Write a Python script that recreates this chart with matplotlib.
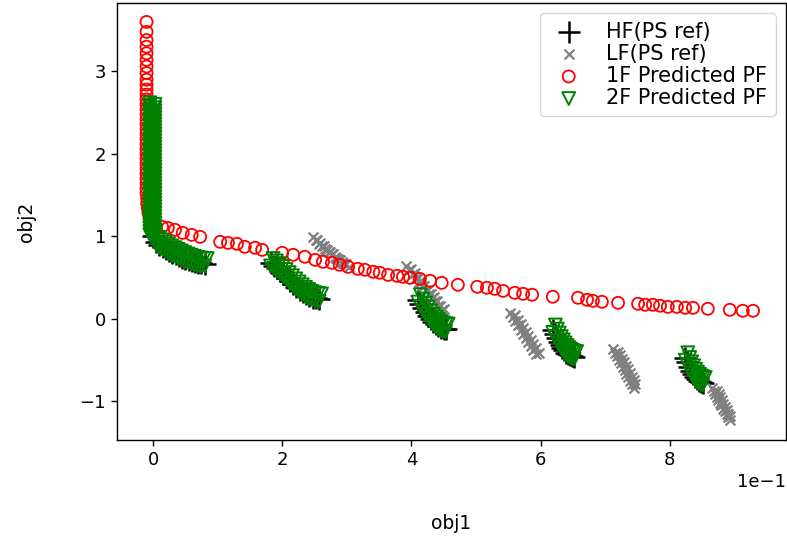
import matplotlib
matplotlib.use('Agg')
import matplotlib.pyplot as plt

# HF reference front (PS ref), five segments
hf_x = [0.000, 0.005, 0.010, 0.015, 0.020, 0.025, 0.030, 0.035, 0.040, 0.045, 0.050,
        0.055, 0.060, 0.065, 0.070, 0.075, 0.080,
        0.182, 0.187, 0.192, 0.197, 0.202, 0.207, 0.212, 0.217, 0.222, 0.227,
        0.232, 0.237, 0.242, 0.247, 0.252, 0.257,
        0.410, 0.414, 0.418, 0.422, 0.426, 0.430, 0.434, 0.438, 0.442, 0.446, 0.450, 0.453,
        0.619, 0.622, 0.625, 0.628, 0.631, 0.634, 0.637, 0.640, 0.643, 0.646, 0.649, 0.652,
        0.824, 0.827, 0.830, 0.833, 0.836, 0.839, 0.842, 0.845, 0.848, 0.851]
hf_y = [1.000, 0.928, 0.897, 0.871, 0.847, 0.824, 0.803, 0.782, 0.762, 0.743, 0.726,
        0.711, 0.698, 0.687, 0.679, 0.673, 0.670,
        0.671, 0.642, 0.610, 0.575, 0.538, 0.500, 0.462, 0.424, 0.387, 0.353,
        0.323, 0.296, 0.274, 0.257, 0.247, 0.242,
        0.233, 0.180, 0.130, 0.082, 0.037, -0.004, -0.039, -0.069, -0.093, -0.110, -0.121, -0.124,
        -0.135, -0.185, -0.233, -0.277, -0.316, -0.352, -0.383, -0.409, -0.430, -0.445, -0.454, -0.458,
        -0.472, -0.530, -0.583, -0.630, -0.671, -0.706, -0.733, -0.754, -0.767, -0.773]

# LF reference front (PS ref)
lf_x = [0.247, 0.252, 0.257, 0.262, 0.267, 0.272, 0.277, 0.282, 0.287, 0.292, 0.297,
        0.254, 0.259, 0.264, 0.269, 0.274, 0.279, 0.284, 0.289, 0.294, 0.299, 0.304,
        0.392, 0.397, 0.402, 0.407, 0.412, 0.417, 0.422, 0.427, 0.432, 0.437, 0.442, 0.447,
        0.400, 0.405, 0.410, 0.415, 0.420, 0.425, 0.430, 0.435, 0.440, 0.445, 0.450,
        0.553, 0.557, 0.561, 0.565, 0.569, 0.573, 0.577, 0.581, 0.585, 0.589, 0.593,
        0.561, 0.565, 0.569, 0.573, 0.577, 0.581, 0.585, 0.589, 0.593, 0.597,
        0.712, 0.715, 0.718, 0.721, 0.724, 0.727, 0.730, 0.733, 0.736, 0.739, 0.742, 0.745,
        0.720, 0.723, 0.726, 0.729, 0.732, 0.735, 0.738, 0.741, 0.744, 0.747,
        0.865, 0.868, 0.870, 0.873, 0.875, 0.878, 0.880, 0.883, 0.885, 0.888, 0.890, 0.893,
        0.873, 0.876, 0.878, 0.881, 0.883, 0.886, 0.888, 0.891, 0.893]
lf_y = [0.99, 0.95, 0.91, 0.88, 0.85, 0.81, 0.78, 0.75, 0.72, 0.69, 0.66,
        0.95, 0.92, 0.88, 0.84, 0.81, 0.78, 0.74, 0.71, 0.68, 0.66, 0.63,
        0.64, 0.59, 0.54, 0.50, 0.45, 0.40, 0.35, 0.30, 0.25, 0.21, 0.16, 0.11,
        0.60, 0.55, 0.50, 0.45, 0.40, 0.35, 0.30, 0.26, 0.21, 0.16, 0.12,
        0.07, 0.02, -0.03, -0.08, -0.13, -0.18, -0.23, -0.28, -0.33, -0.38, -0.43,
        0.04, -0.01, -0.06, -0.11, -0.16, -0.21, -0.26, -0.31, -0.36, -0.41,
        -0.37, -0.41, -0.45, -0.50, -0.54, -0.58, -0.62, -0.67, -0.71, -0.75, -0.79, -0.84,
        -0.40, -0.44, -0.49, -0.53, -0.57, -0.61, -0.66, -0.70, -0.74, -0.79,
        -0.84, -0.88, -0.91, -0.95, -0.98, -1.02, -1.05, -1.09, -1.12, -1.16, -1.19, -1.23,
        -0.87, -0.91, -0.95, -0.99, -1.03, -1.07, -1.11, -1.15, -1.18]

# 1F predicted front
pf1_x = [-0.010, -0.010, -0.010, -0.010, -0.010, -0.010, -0.010, -0.010, -0.010, -0.010,
         -0.010, -0.010, -0.010, -0.010, -0.010, -0.010, -0.010, -0.010, -0.010, -0.010,
         -0.010, -0.010, -0.010, -0.010, -0.010, -0.010, -0.010, -0.010, -0.010, -0.010,
         -0.010, -0.010, -0.009, -0.009, -0.008, -0.007, -0.005, 0.002,
         0.014, 0.023, 0.034, 0.046, 0.060, 0.073, 0.104, 0.116, 0.130, 0.142,
         0.158, 0.169, 0.200, 0.217, 0.235, 0.251, 0.263, 0.277, 0.289, 0.302,
         0.317, 0.328, 0.341, 0.351, 0.364, 0.378, 0.387, 0.398, 0.413, 0.429,
         0.447, 0.472, 0.502, 0.517, 0.529, 0.542, 0.560, 0.573, 0.587, 0.619,
         0.658, 0.672, 0.681, 0.695, 0.720, 0.751, 0.762, 0.774, 0.785, 0.797,
         0.811, 0.824, 0.836, 0.859, 0.893, 0.913, 0.929]
pf1_y = [3.60, 3.48, 3.38, 3.30, 3.22, 3.14, 3.06, 2.98, 2.90, 2.84,
         2.78, 2.72, 2.66, 2.60, 2.54, 2.48, 2.42, 2.36, 2.30, 2.24,
         2.18, 2.12, 2.06, 2.00, 1.94, 1.88, 1.82, 1.76, 1.70, 1.64,
         1.58, 1.52, 1.46, 1.40, 1.34, 1.28, 1.22, 1.16,
         1.115, 1.103, 1.079, 1.042, 1.018, 0.994, 0.933, 0.921, 0.909, 0.873,
         0.861, 0.836, 0.800, 0.776, 0.752, 0.715, 0.691, 0.679, 0.655, 0.630,
         0.606, 0.594, 0.570, 0.558, 0.533, 0.521, 0.509, 0.497, 0.485, 0.461,
         0.436, 0.412, 0.388, 0.376, 0.364, 0.339, 0.315, 0.303, 0.291, 0.267,
         0.255, 0.230, 0.218, 0.206, 0.194, 0.182, 0.170, 0.170, 0.158, 0.145,
         0.145, 0.133, 0.133, 0.121, 0.109, 0.097, 0.097]

# 2F predicted front: vertical branch (two columns) then the five segments (two rows each)
pf2_x = [-0.005, -0.005, -0.005, -0.005, -0.005, -0.005, -0.005, -0.005, -0.005, -0.005,
         -0.005, -0.005, -0.005, -0.005, -0.005, -0.005, -0.005, -0.005, -0.005, -0.005,
         -0.005, -0.005, -0.005, -0.005, -0.005, -0.005, -0.005, -0.005, -0.005, -0.005,
         -0.005, -0.005, -0.005, -0.005, -0.005, -0.005, -0.005, -0.005, -0.005, -0.005, -0.005,
         0.003, 0.003, 0.003, 0.003, 0.003, 0.003, 0.003, 0.003, 0.003, 0.003,
         0.003, 0.003, 0.003, 0.003, 0.003, 0.003, 0.003, 0.003, 0.003, 0.003,
         0.003, 0.003, 0.003, 0.003, 0.003, 0.003, 0.003, 0.003, 0.003, 0.003,
         0.003, 0.003, 0.003, 0.003, 0.003, 0.003, 0.003, 0.003, 0.003, 0.003, 0.003,
         0.000, 0.005, 0.010, 0.015, 0.020, 0.025, 0.030, 0.035, 0.040, 0.045, 0.050,
         0.055, 0.060, 0.065, 0.070, 0.075, 0.080,
         0.004, 0.009, 0.014, 0.019, 0.024, 0.029, 0.034, 0.039, 0.044, 0.049, 0.054,
         0.059, 0.064, 0.069, 0.074, 0.079, 0.084,
         0.182, 0.187, 0.192, 0.197, 0.202, 0.207, 0.212, 0.217, 0.222, 0.227,
         0.232, 0.237, 0.242, 0.247, 0.252, 0.257,
         0.186, 0.191, 0.196, 0.201, 0.206, 0.211, 0.216, 0.221, 0.226, 0.231,
         0.236, 0.241, 0.246, 0.251, 0.256, 0.261,
         0.410, 0.414, 0.418, 0.422, 0.426, 0.430, 0.434, 0.438, 0.442, 0.446, 0.450, 0.453,
         0.414, 0.418, 0.422, 0.426, 0.430, 0.434, 0.438, 0.442, 0.446, 0.450, 0.454, 0.457,
         0.619, 0.622, 0.625, 0.628, 0.631, 0.634, 0.637, 0.640, 0.643, 0.646, 0.649, 0.652,
         0.623, 0.626, 0.629, 0.632, 0.635, 0.638, 0.641, 0.644, 0.647, 0.650, 0.653, 0.656,
         0.824, 0.827, 0.830, 0.833, 0.836, 0.839, 0.842, 0.845, 0.848, 0.851,
         0.828, 0.831, 0.834, 0.837, 0.840, 0.843, 0.846, 0.849, 0.852, 0.855]
pf2_y = [2.62, 2.58, 2.54, 2.50, 2.46, 2.42, 2.38, 2.34, 2.30, 2.26,
         2.22, 2.18, 2.14, 2.10, 2.06, 2.02, 1.98, 1.94, 1.90, 1.86,
         1.82, 1.78, 1.74, 1.70, 1.66, 1.62, 1.58, 1.54, 1.50, 1.46,
         1.42, 1.38, 1.34, 1.30, 1.26, 1.22, 1.18, 1.14, 1.10, 1.06, 1.02,
         2.60, 2.56, 2.52, 2.48, 2.44, 2.40, 2.36, 2.32, 2.28, 2.24,
         2.20, 2.16, 2.12, 2.08, 2.04, 2.00, 1.96, 1.92, 1.88, 1.84,
         1.80, 1.76, 1.72, 1.68, 1.64, 1.60, 1.56, 1.52, 1.48, 1.44,
         1.40, 1.36, 1.32, 1.28, 1.24, 1.20, 1.16, 1.12, 1.08, 1.04, 1.00,
         0.970, 0.898, 0.867, 0.841, 0.817, 0.794, 0.773, 0.752, 0.732, 0.713, 0.696,
         0.681, 0.668, 0.657, 0.649, 0.643, 0.640,
         1.060, 0.988, 0.957, 0.931, 0.907, 0.884, 0.863, 0.842, 0.822, 0.803, 0.786,
         0.771, 0.758, 0.747, 0.739, 0.733, 0.730,
         0.641, 0.612, 0.580, 0.545, 0.508, 0.470, 0.432, 0.394, 0.357, 0.323,
         0.293, 0.266, 0.244, 0.227, 0.217, 0.212,
         0.731, 0.702, 0.670, 0.635, 0.598, 0.560, 0.522, 0.484, 0.447, 0.413,
         0.383, 0.356, 0.334, 0.317, 0.307, 0.302,
         0.203, 0.150, 0.100, 0.052, 0.007, -0.034, -0.069, -0.099, -0.123, -0.140, -0.151, -0.154,
         0.293, 0.240, 0.190, 0.142, 0.097, 0.056, 0.021, -0.009, -0.033, -0.050, -0.061, -0.064,
         -0.165, -0.215, -0.263, -0.307, -0.346, -0.382, -0.413, -0.439, -0.460, -0.475, -0.484, -0.488,
         -0.075, -0.125, -0.173, -0.217, -0.256, -0.292, -0.323, -0.349, -0.370, -0.385, -0.394, -0.398,
         -0.502, -0.560, -0.613, -0.660, -0.701, -0.736, -0.763, -0.784, -0.797, -0.803,
         -0.412, -0.470, -0.523, -0.570, -0.611, -0.646, -0.673, -0.694, -0.707, -0.713]

plt.rcParams['font.size'] = 13

fig = plt.figure(figsize=(7.87, 5.43), dpi=100)
ax = fig.add_axes([0.1487, 0.1897, 0.85, 0.8048])

ax.scatter(hf_x, hf_y, marker='+', s=250, c='black', linewidths=1.8, label='HF(PS ref)')
ax.scatter(lf_x, lf_y, marker='x', s=50, c='grey', linewidths=1.6, label='LF(PS ref)')
ax.scatter(pf1_x, pf1_y, marker='o', s=75, facecolors='none', edgecolors='red',
           linewidths=1.3, label='1F Predicted PF')
ax.scatter(pf2_x, pf2_y, marker='v', s=85, facecolors='none', edgecolors='green',
           linewidths=1.4, label='2F Predicted PF')

ax.set_xlim(-0.0557, 0.98)
ax.set_ylim(-1.47, 3.83)
ax.ticklabel_format(axis='x', style='sci', scilimits=(-1, -1))
ax.tick_params(length=4.5, width=1.0)
for sp in ax.spines.values():
    sp.set_linewidth(1.0)

ax.set_xlabel('obj1', fontsize=13.5, labelpad=32)
ax.set_ylabel('obj2', fontsize=13.5, labelpad=31)
ax.legend(loc='upper right', fontsize=15, labelspacing=0.1, handlelength=2.0,
          handletextpad=0.8, borderpad=0.4)

fig.savefig('out.png', dpi=100)
